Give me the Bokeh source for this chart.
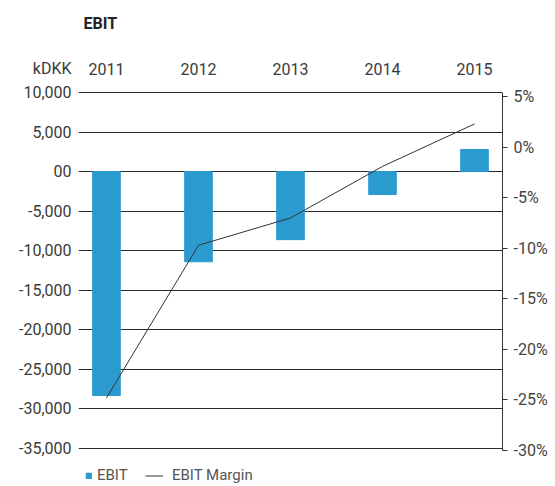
from bokeh.plotting import figure
from bokeh.models import (ColumnDataSource, LinearAxis, Range1d, FixedTicker, Label,
                          Legend, LegendItem)
from bokeh.core.properties import value
from bokeh.embed import file_html
from bokeh.resources import INLINE

# ---- data ----
years = ["2011", "2012", "2013", "2014", "2015"]
ebit = [-28300, -11400, -8600, -2900, 2800]          # kDKK
ebit_margin = [-24.8, -9.7, -7.0, -1.9, 2.3]         # %
left_ticks = [10000, 5000, 0, -5000, -10000, -15000, -20000, -25000, -30000, -35000]
left_labels = ["10,000", "5,000", "00", "-5,000", "-10,000", "-15,000", "-20,000",
               "-25,000", "-30,000", "-35,000"]
right_ticks = [5, 0, -5, -10, -15, -20, -25, -30]
right_labels = ["5%", "0%", "-5%", "-10%", "-15%", "-20%", "-25%", "-30%"]
unit_label = "kDKK"

# ---- layout constants (not data) ----
FONT = "Roboto"
TXT = "#3a3a3a"
BAR = "#2b9bcf"
HEADER_ROW = 13000          # left-scale value of the header row (unit + years)

xs = list(range(len(years)))
src = ColumnDataSource(dict(x=xs, ebit=ebit, margin=ebit_margin, year=years))

p = figure(width=553, height=484, output_backend="svg", toolbar_location=None,
           x_range=Range1d(-0.304, 4.304), y_range=Range1d(-39551, 21629),
           min_border=0, min_border_left=78, min_border_right=51,
           min_border_top=0, min_border_bottom=0,
           x_axis_location=None, y_axis_location=None)
p.outline_line_color = None
p.background_fill_color = "white"
p.border_fill_color = "white"
p.extra_y_ranges = {"pct": Range1d(-33.36, 14.51)}

# left axis (unit label sits in the header row)
lt = left_ticks + [HEADER_ROW]
ll = left_labels + [unit_label]
ly = LinearAxis(ticker=FixedTicker(ticks=lt),
                major_label_overrides={t: l for t, l in zip(lt, ll)})
ly.axis_line_color = None
ly.major_tick_line_color = None
ly.major_tick_in = 0
ly.major_tick_out = 0
ly.minor_tick_line_color = None
ly.major_label_standoff = 7
ly.major_label_text_font = FONT
ly.major_label_text_font_size = "16px"
ly.major_label_text_color = TXT
p.add_layout(ly, "left")

# right axis
ry = LinearAxis(y_range_name="pct", ticker=FixedTicker(ticks=right_ticks),
                major_label_overrides={t: l for t, l in zip(right_ticks, right_labels)},
                bounds=(-30, 5.4))
ry.axis_line_color = "#333333"
ry.axis_line_width = 1
ry.major_tick_line_color = "#333333"
ry.major_tick_in = 0
ry.major_tick_out = 5
ry.minor_tick_line_color = None
ry.major_label_standoff = 6
ry.major_label_text_font = FONT
ry.major_label_text_font_size = "16px"
ry.major_label_text_color = "#444444"
p.add_layout(ry, "right")

p.ygrid.ticker = FixedTicker(ticks=left_ticks)
p.ygrid.grid_line_color = "#2a2a2a"
p.ygrid.grid_line_width = 1
p.xgrid.grid_line_color = None

bars = p.vbar(x="x", top="ebit", bottom=0, width=0.30, source=src,
              fill_color=BAR, line_color=BAR)
line = p.line(x="x", y="margin", source=src, y_range_name="pct",
              line_color="#333333", line_width=1)

# year labels in the header row
p.text(x="x", y=HEADER_ROW, text="year", source=src, text_font=value(FONT),
       text_font_size="16px", text_color=TXT, text_align="center",
       text_baseline="middle")

# title
p.add_layout(Label(x=5, y=461, x_units="screen", y_units="screen", text="EBIT",
                   text_font=FONT, text_font_size="16px", text_font_style="bold",
                   text_color="#222222", text_baseline="middle"))

# legends
def style(lg, gw, gh, standoff):
    lg.glyph_width = gw
    lg.glyph_height = gh
    lg.label_height = 12
    lg.label_standoff = standoff
    lg.padding = 0
    lg.margin = 0
    lg.spacing = 0
    lg.background_fill_alpha = 0
    lg.border_line_color = None
    lg.label_text_font = FONT
    lg.label_text_font_size = "15px"
    lg.label_text_color = "#555555"
    lg.label_text_baseline = "middle"

lg1 = Legend(items=[LegendItem(label="EBIT", renderers=[bars])],
             location=(7, 0), orientation="horizontal")
style(lg1, 7, 7, 5)
p.add_layout(lg1, "center")

lg2 = Legend(items=[LegendItem(label="EBIT Margin", renderers=[line])],
             location=(67, 0), orientation="horizontal")
style(lg2, 18, 7, 9)
p.add_layout(lg2, "center")

open("out.html", "w").write(file_html(p, INLINE))
